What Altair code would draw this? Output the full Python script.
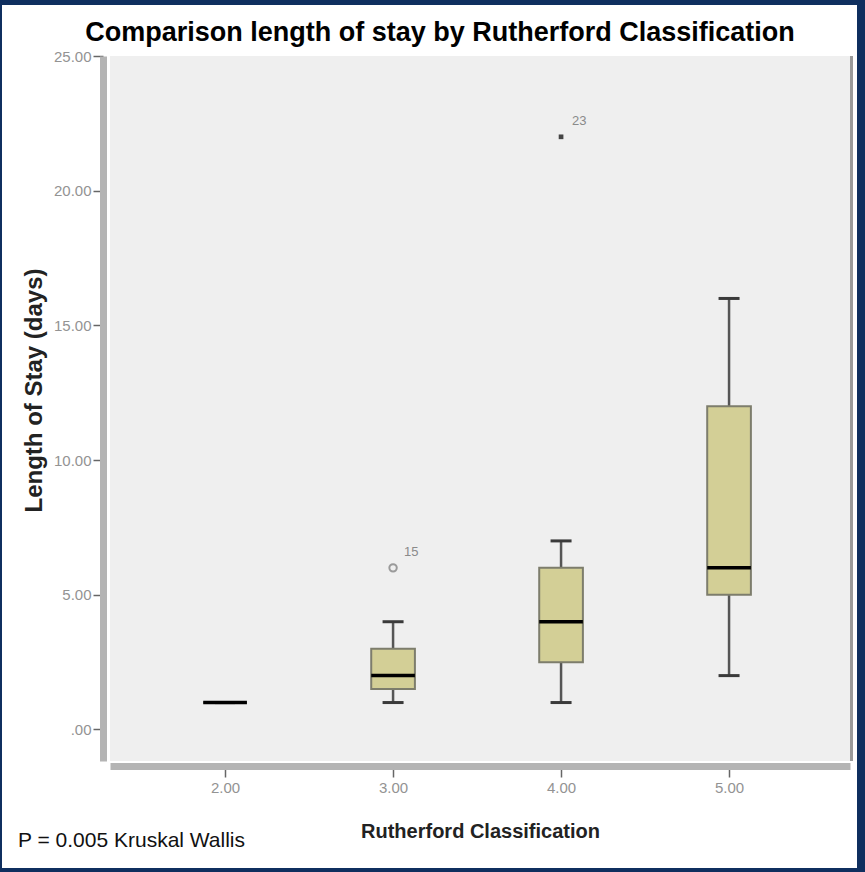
import altair as alt
import pandas as pd

# ---- data ----
categories = [2, 3, 4, 5]
whisker_low = [1, 1, 1, 2]
q1 = [1, 1.5, 2.5, 5]
median = [1, 2, 4, 6]
q3 = [1, 3, 6, 12]
whisker_high = [1, 4, 7, 16]

outlier_cat = [3, 4]
outlier_val = [6, 22]
outlier_id = ["15", "23"]
outlier_kind = ["circle", "star"]

y_ticks = [0, 5, 10, 15, 20, 25]
x_ticks = [2, 3, 4, 5]

title_text = "Comparison length of stay by Rutherford  Classification"
y_title = "Length of Stay (days)"
x_title = "Rutherford Classification"
note_text = "P = 0.005 Kruskal Wallis"

FONT = "Liberation Sans"
W, H = 740, 705

boxes = pd.DataFrame({
    "cat": categories, "lo": whisker_low, "q1": q1,
    "med": median, "q3": q3, "hi": whisker_high,
})
outs = pd.DataFrame({"cat": outlier_cat, "val": outlier_val,
                     "id": outlier_id, "kind": outlier_kind})

xscale = alt.Scale(domain=[1.315, 5.72], nice=False, zero=False)
yscale = alt.Scale(domain=[-1.17, 25], nice=False, zero=False)

x_axis = alt.Axis(
    values=x_ticks, title=x_title, grid=False,
    labelExpr="format(datum.value, '.2f')",
    labelFont=FONT, labelFontSize=15, labelColor="#939393", labelPadding=3,
    titleFont=FONT, titleFontSize=20, titleFontWeight="bold", titleColor="#222222",
    titlePadding=26,
    domainColor="#b4b4b4", domainWidth=7, offset=5,
    tickColor="#666666", tickSize=11, tickWidth=1.5,
)
y_axis = alt.Axis(
    values=y_ticks, title=y_title, grid=False,
    labelExpr="datum.value == 0 ? '.00' : format(datum.value, '.2f')",
    labelFont=FONT, labelFontSize=15, labelColor="#939393", labelPadding=2,
    titleFont=FONT, titleFontSize=24, titleFontWeight="bold", titleColor="#222222",
    titlePadding=7, titleY=334,
    domainColor="#b4b4b4", domainWidth=7, offset=7,
    tickColor="#666666", tickSize=10, tickWidth=1.5,
)

base = alt.Chart(boxes).transform_calculate(
    bl="datum.cat - 0.13", br="datum.cat + 0.13",
    cl="datum.cat - 0.0625", cr="datum.cat + 0.0625",
)

whisk_lo = base.mark_rule(color="#555555", strokeWidth=2.5).encode(
    x=alt.X("cat:Q", scale=xscale, axis=x_axis),
    y=alt.Y("lo:Q", scale=yscale, axis=y_axis),
    y2="q1:Q",
)
whisk_hi = base.mark_rule(color="#555555", strokeWidth=2.5).encode(
    x="cat:Q", y="q3:Q", y2="hi:Q",
)
cap_lo = base.mark_rule(color="#3a3a3a", strokeWidth=3).encode(
    x="cl:Q", x2="cr:Q", y="lo:Q",
)
cap_hi = base.mark_rule(color="#3a3a3a", strokeWidth=3).encode(
    x="cl:Q", x2="cr:Q", y="hi:Q",
)
box = base.mark_rect(fill="#d3cf96", stroke="#7d7d6c", strokeWidth=2).encode(
    x="bl:Q", x2="br:Q", y="q1:Q", y2="q3:Q",
)
med = base.mark_rule(color="#000000", strokeWidth=3.5).encode(
    x="bl:Q", x2="br:Q", y="med:Q",
)

obase = alt.Chart(outs)
circ = obase.transform_filter("datum.kind == 'circle'").mark_point(
    shape="circle", filled=False, color="#777777", size=55, strokeWidth=2,
).encode(x="cat:Q", y="val:Q")
star = obase.transform_filter("datum.kind == 'star'").mark_point(
    shape="square", filled=True, color="#444444", size=22, opacity=1,
).encode(x="cat:Q", y="val:Q")
olab = obase.mark_text(
    align="left", baseline="middle", dx=11, dy=-16,
    font=FONT, fontSize=13, color="#8a8a8a",
).encode(x="cat:Q", y="val:Q", text="id:N")

# right edge of plot frame
right_line = alt.Chart(pd.DataFrame({"k": [0]})).mark_rule(
    color="#9a9a9a", strokeWidth=3
).encode(x=alt.value(W + 1.5), y=alt.value(0), y2=alt.value(H))

# chart title (as text so it sits inside the fixed padding)
title = alt.Chart(pd.DataFrame({"t": [title_text]})).mark_text(
    align="center", baseline="alphabetic", font=FONT, fontSize=27,
    fontWeight="bold", color="#000000",
).encode(x=alt.value(330), y=alt.value(-15), text="t:N")

# note text
note = alt.Chart(pd.DataFrame({"t": [note_text]})).mark_text(
    align="left", baseline="alphabetic", font=FONT, fontSize=21, color="#111111",
).encode(x=alt.value(-92), y=alt.value(791), text="t:N")

# outer navy frame
NAVY = "#0f2f5f"
def frame_rect(x0, x1, y0, y1):
    return alt.Chart(pd.DataFrame({"k": [0]})).mark_rect(color=NAVY).encode(
        x=alt.value(x0), x2=alt.value(x1), y=alt.value(y0), y2=alt.value(y1)
    )

frame = [
    frame_rect(-110, 755, -56, -51),   # top
    frame_rect(747, 755, -56, 816),    # right
    frame_rect(-110, 755, 812, 816),   # bottom
    frame_rect(-110, -108, -56, 816),  # left
]

chart = alt.layer(
    whisk_lo, whisk_hi, cap_lo, cap_hi, box, med, circ, star, olab,
    right_line, title, note, *frame,
).properties(
    width=W, height=H,
    autosize=alt.AutoSizeParams(type="none"),
    padding={"left": 110, "top": 56, "right": 15, "bottom": 111},
    background="#ffffff",
).configure_view(
    fill="#efefef", stroke=None,
)

chart.save("out.html", embed_options={"renderer": "svg", "actions": False})
